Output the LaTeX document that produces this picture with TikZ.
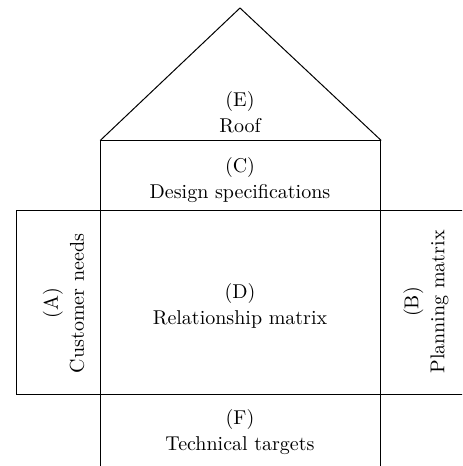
\documentclass[tikz,border=0pt]{standalone}
\begin{document}
\begin{tikzpicture}[x=0.5pt, y=0.5pt,
	bloc/.style={draw, line width=0.5pt, inner sep=0pt},
	lbl/.style={align=center, inner sep=0pt}]
	\useasboundingbox (0,0) rectangle (462,466);
	\clip (0,0) rectangle (462,466);

	% Blocs
	\node[bloc, minimum width=140pt, minimum height=35pt] (C) at (240.7,290) {};
	\node[bloc, minimum width=140pt, minimum height=91.75pt] (D) at (240.7,163.25) {};
	\node[bloc, minimum width=42.35pt, minimum height=91.75pt] (A) at (58.35,163.25) {};
	\node[bloc, minimum width=49.65pt, minimum height=91.75pt] (B) at (430.35,163.25) {};
	\node[bloc, minimum width=140pt, minimum height=45.75pt] (F) at (240.7,25.75) {};

	% Toit
	\coordinate (top) at (240,458);
	\draw[line width=0.5pt] (C.north west) -- (top) -- (C.north east);

	% Textes
	\node[lbl] (lblE) at (240,354) {(E)\\[1pt]Roof};
	\node[lbl] (lblC) at (240,286) {(C)\\[1pt]Design specifications};
	\node[lbl] (lblD) at (240,160.5) {(D)\\[1pt]Relationship matrix};
	\node[lbl] (lblF) at (240,33.5) {(F)\\[1pt]Technical targets};
	\node[lbl, rotate=90] (lblA) at (63.5,162.5) {(A)\\[1pt]Customer needs};
	\node[lbl, rotate=90] (lblB) at (426,164) {(B)\\[1pt]Planning matrix};
\end{tikzpicture}
\end{document}
